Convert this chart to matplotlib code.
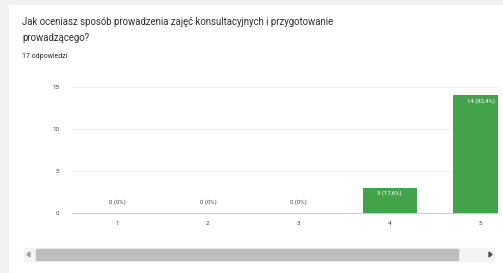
import matplotlib.pyplot as plt
from matplotlib.patches import Rectangle, Polygon

plt.rcParams['font.family'] = ['Roboto', 'DejaVu Sans']

# dane z wykresu
oceny = [1, 2, 3, 4, 5]
liczby = [0, 0, 0, 3, 14]
etykiety = ['0 (0%)', '0 (0%)', '0 (0%)', '3 (17,6%)', '14 (82,4%)']
tytul = 'Jak oceniasz sposób prowadzenia zajęć konsultacyjnych i przygotowanie\nprowadzącego?'
podtytul = '17 odpowiedzi'
y_ticks = [0, 5, 10, 15]

W, H = 503, 273
fig = plt.figure(figsize=(W / 100, H / 100), dpi=100)
fig.patch.set_facecolor('#f1f1f1')

# biała karta
card = fig.add_axes([9 / W, 0, 1 - 9 / W, 1 - 5 / H])
card.set_xlim(0, 1)
card.set_ylim(0, 1)
card.axis('off')
card.add_patch(Rectangle((0, 0), 1, 1, color='white'))

fig.text(22 / W, 1 - 17 / H, tytul, fontsize=6.9, color='#303030', va='top', linespacing=1.75)
fig.text(22 / W, 1 - 57 / H, podtytul, fontsize=5.0, color='#303030', va='center')

# wykres słupkowy
ax = fig.add_axes([72 / W, 1 - 213 / H, (498 - 72) / W, (213 - 87) / H])
ax.bar(oceny, liczby, width=0.6, color='#43a34a', zorder=3)
for x, v, t in zip(oceny, liczby, etykiety):
    if v == 0:
        ax.text(x, 1.0, t, ha='center', va='bottom', fontsize=4.3, color='#444444', zorder=4)
    else:
        ax.text(x, v - 0.3, t, ha='center', va='top', fontsize=4.3, color='white', zorder=4)
ax.set_xlim(0.505, 5.19)
ax.set_ylim(0, 15)
ax.set_yticks(y_ticks)
ax.set_xticks(oceny)
ax.tick_params(axis='both', length=0, labelsize=4.5, colors='#444444', pad=6)
ax.tick_params(axis='y', pad=9)
ax.grid(axis='y', color='#eeeeee', linewidth=0.6, zorder=0)
for s in ['top', 'right', 'left']:
    ax.spines[s].set_visible(False)
ax.spines['bottom'].set_color('#cccccc')
ax.spines['bottom'].set_linewidth(0.8)
ax.set_facecolor('none')

# pasek przewijania
sb = fig.add_axes([0, 0, 1, 1])
sb.set_xlim(0, W)
sb.set_ylim(H, 0)
sb.axis('off')
sb.add_patch(Rectangle((24, 248), 470, 13, color='#f4f4f4'))
sb.add_patch(Rectangle((36, 249), 422, 11, color='#bdbdbd'))
sb.add_patch(Polygon([(27, 254.5), (30, 252), (30, 257)], color='#a0a0a0'))
sb.add_patch(Polygon([(492, 254.5), (489, 252), (489, 257)], color='#505050'))

fig.savefig('out.png', dpi=100)
